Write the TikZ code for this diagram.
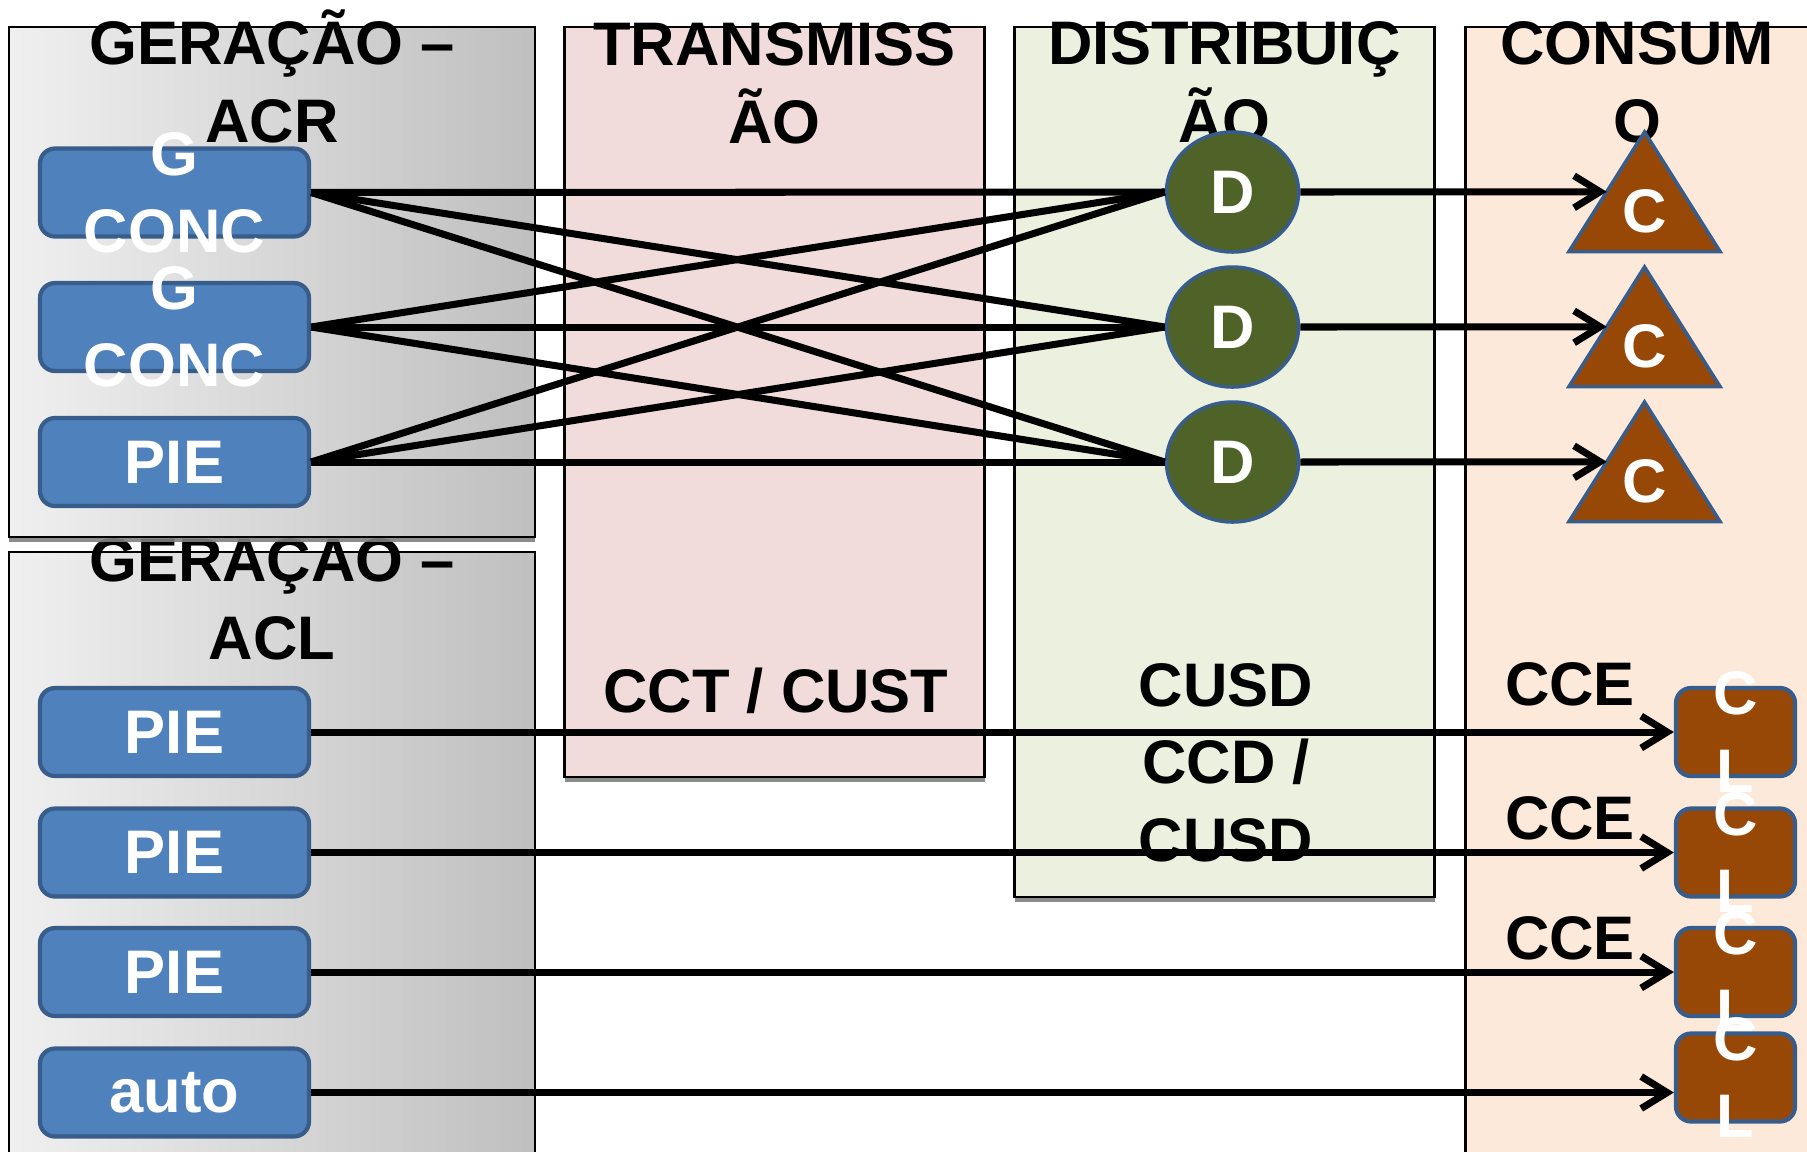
\documentclass[tikz,border=0pt]{standalone}
\usepackage{fontspec}
\setmainfont{Liberation Sans}
\usetikzlibrary{arrows.meta,shapes.geometric,shadows}

\definecolor{boxblue}{HTML}{4F81BD}
\definecolor{boxedge}{HTML}{385D8A}
\definecolor{transpink}{HTML}{F2DCDB}
\definecolor{distgreen}{HTML}{EBF1DE}
\definecolor{conspeach}{HTML}{FDE9D9}
\definecolor{dgreen}{HTML}{4F6228}
\definecolor{cbrown}{HTML}{974806}

\begin{document}
\begin{tikzpicture}[
  panel/.style={draw=black, line width=0.6pt},
  shadowed/.style={drop shadow={shadow xshift=0pt, shadow yshift=-1.3pt, fill=gray, opacity=0.9}},
  ttl/.style={font=\fontsize{17.5}{22}\selectfont\bfseries, align=center, inner sep=0pt},
  wtxt/.style={ttl, text=white},
  gen/.style={draw=boxedge, fill=boxblue, line width=1.2pt, rounded corners=0.15cm,
    minimum width=2.69cm, minimum height=0.88cm, inner sep=0pt},
  cl/.style={draw=boxedge, fill=cbrown, line width=1.2pt, rounded corners=0.15cm,
    minimum width=1.19cm, minimum height=0.88cm, inner sep=0pt},
  dist/.style={ellipse, draw=boxedge, fill=dgreen, line width=1pt,
    minimum width=1.32cm, minimum height=1.2cm, inner sep=0pt, wtxt},
  link/.style={line width=2pt},
  arr/.style={link, -{Straight Barb[length=2.6mm,width=3.2mm]}}
]

\useasboundingbox (0,0) rectangle (18.07,-11.51);

% panels
\draw[panel, left color=gray!12, right color=gray!50] (0.09,-5.52) rectangle (5.35,-11.7);
\node[ttl, anchor=base] (aclt) at (2.72,-6.59) {GERAÇÃO –\\ACL};

\draw[panel, shadowed, left color=gray!12, right color=gray!50] (0.09,-0.27) rectangle (5.35,-5.37);
\draw[panel, shadowed, fill=transpink] (5.645,-0.27) rectangle (9.845,-7.77);
\draw[panel, shadowed, fill=distgreen] (10.145,-0.27) rectangle (14.345,-8.97);
\draw[panel, fill=conspeach] (14.655,-0.27) rectangle (18.2,-11.7);

% titles
\node[ttl, anchor=base] (acrt) at (2.72,-1.42) {GERAÇÃO –\\ACR};
\node[ttl, anchor=base] (trt) at (7.745,-1.43) {TRANSMISS\\ÃO};
\node[ttl, anchor=base] (dit) at (12.245,-1.42) {DISTRIBUIÇ\\ÃO};
\node[ttl, anchor=base] (cot) at (16.37,-1.42) {CONSUM\\O};

\node[ttl, anchor=base] (cct) at (7.76,-7.12) {CCT / CUST};
\node[ttl, anchor=base] (cusd) at (12.26,-8.61) {CUSD\\CCD /\\CUSD};
\foreach \y [count=\i] in {-7.05,-8.39,-9.59}
  \node[ttl, anchor=base] (cce\i) at (15.70,\y) {CCE};

% generation ACR
\node[gen, label={[wtxt]center:G\\CONC}] (g1) at (1.745,-1.925) {};
\node[gen, label={[wtxt]center:G\\CONC}] (g2) at (1.745,-3.27) {};
\node[gen, label={[wtxt]center:PIE}] (g3) at (1.745,-4.62) {};

% distribution
\foreach \y [count=\i] in {-1.92,-3.27,-4.62}
  \node[dist] (d\i) at (12.325,\y) {D};

% consumers
\foreach \y [count=\i] in {-1.32,-2.67,-4.02} {
  \filldraw[draw=boxedge, fill=cbrown, line width=1pt] (16.445,\y) -- ++(0.755,-1.195) -- ++(-1.51,0) -- cycle;
  \node[wtxt] (c\i) at (16.445,\y-0.797) {C};
  \coordinate (cw\i) at (16.0675,\y-0.5975);
}

% generation ACL
\node[gen, label={[wtxt]center:PIE}] (a1) at (1.745,-7.32) {};
\node[gen, label={[wtxt]center:PIE}] (a2) at (1.745,-8.525) {};
\node[gen, label={[wtxt]center:PIE}] (a3) at (1.745,-9.72) {};
\node[gen, label={[wtxt]center:auto}] (a4) at (1.745,-10.925) {};

\foreach \y [count=\i] in {-7.32,-8.525,-9.72,-10.775}
  \node[cl, label={[wtxt]center:C\\L}] (l\i) at (17.355,\y) {};

% connections
\foreach \i in {1,2,3}
  \foreach \j in {1,2,3}
    \draw[link] (g\i.east) -- (d\j.west);
\foreach \i in {1,2,3}
  \draw[arr] (d\i.east) -- (cw\i);
\foreach \i in {1,2,3}
  \draw[arr] (a\i.east) -- (l\i.west);
\draw[arr] (a4.east) -- (a4.east -| l4.west);

\end{tikzpicture}
\end{document}
